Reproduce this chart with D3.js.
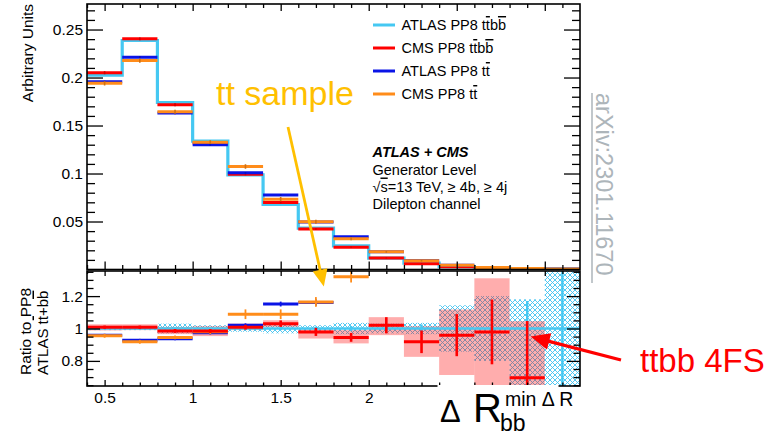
<!DOCTYPE html>
<html>
<head>
<meta charset="utf-8">
<script src="https://cdn.jsdelivr.net/npm/d3@7"></script>
<style>
  html, body { margin: 0; padding: 0; background: #fff; }
  svg { display: block; }
  text { font-family: "Liberation Sans", Arial, Helvetica, sans-serif; fill: #000; }
  .ov { text-decoration: overline; }
</style>
</head>
<body>
<svg id="chart" width="769" height="435"></svg>
<script>
// ---- binning of ΔR(bb) for the min-ΔR b-jet pair ----
const binEdges = [0.4, 0.6, 0.8, 1.0, 1.2, 1.4, 1.6, 1.8, 2.0, 2.2, 2.4, 2.6, 2.8, 3.0, 3.2];

// ---- normalised distributions (upper panel) ----
const atlasTtbb = [0.2025, 0.2386, 0.1740, 0.1337, 0.0985, 0.0677, 0.0431, 0.0247, 0.0118, 0.0066, 0.0030, 0.0016, 0.0008, 0.0003];
const cmsTtbb   = [0.2050, 0.2403, 0.1716, 0.1317, 0.0993, 0.0697, 0.0422, 0.0233, 0.0120, 0.0061, 0.0029, 0.0016, 0.0006, 0.0001];
const atlasTt   = [0.1955, 0.2212, 0.1630, 0.1299, 0.1007, 0.0775, 0.0495, 0.0341, 0.0186, 0.0094, 0.0043, 0.0022, 0.0011, 0.0005];
const cmsTt     = [0.1940, 0.2177, 0.1643, 0.1327, 0.1073, 0.0733, 0.0497, 0.0320, 0.0184, 0.0092, 0.0043, 0.0021, 0.0010, 0.0005];
const cmsTtbbErr  = [0.0015, 0.0015, 0.0015, 0.0013, 0.0012, 0.0010, 0.0008, 0.0006, 0.0005, 0.0004, 0.0003, 0.0002, 0.0002, 0.0001];
const atlasTtErr  = [0.0012, 0.0012, 0.0012, 0.0010, 0.0009, 0.0008, 0.0007, 0.0006, 0.0004, 0.0003, 0.0002, 0.0001, 0.0001, 0.0001];
const cmsTtErr    = [0.0022, 0.0022, 0.0020, 0.0020, 0.0024, 0.0022, 0.0020, 0.0015, 0.0010, 0.0008, 0.0005, 0.0003, 0.0002, 0.0001];

// ---- ratios to ATLAS PP8 ttbb (lower panel) ----
const ratioCmsTtbb    = [1.008, 1.008, 0.985, 0.985, 1.008, 1.030, 0.979, 0.945, 1.020, 0.918, 0.959, 0.979, 0.696, null];
const ratioCmsTtbbErr = [0.010, 0.010, 0.012, 0.012, 0.015, 0.020, 0.025, 0.027, 0.050, 0.070, 0.130, 0.200, 0.350, null];
const bandCmsTtbbLo   = [0.988, 0.990, 0.965, 0.953, 0.990, 1.010, 0.938, 0.908, 0.959, 0.825, 0.713, 0.600, 0.350, null];
const bandCmsTtbbHi   = [1.026, 1.026, 1.010, 1.014, 1.030, 1.051, 0.994, 0.990, 1.070, 1.014, 1.117, 1.310, 1.045, null];
const ratioAtlasTt    = [0.959, 0.928, 0.936, 0.973, 1.020, 1.151, 1.160, 1.400, 1.580, 1.420, 1.430, 1.440, 1.480, 1.670];
const ratioAtlasTtErr = [0.008, 0.008, 0.008, 0.010, 0.012, 0.015, 0.020, 0.030, 0.030, 0.030, 0.040, 0.050, 0.060, 0.080];
const ratioCmsTt      = [0.955, 0.918, 0.945, 0.980, 1.088, 1.088, 1.164, 1.320, 1.560, 1.420, 1.430, 1.450, 1.500, 1.600];
const ratioCmsTtErr   = [0.012, 0.012, 0.012, 0.015, 0.030, 0.030, 0.030, 0.036, 0.040, 0.040, 0.050, 0.060, 0.080, 0.100];
const atlasBandLo     = [0.990, 0.990, 0.970, 0.980, 0.980, 0.970, 0.980, 0.965, 0.970, 0.965, 0.857, 0.800, 0.600, 0.200];
const atlasBandHi     = [1.010, 1.010, 1.030, 1.020, 1.020, 1.030, 1.020, 1.035, 1.030, 1.035, 1.143, 1.200, 1.180, 1.800];
const atlasBarErr     = [0.004, 0.004, 0.006, 0.006, 0.008, 0.010, 0.012, 0.015, 0.020, 0.025, 0.080, 0.150, 0.170, 0.800];

// ---- axis ticks ----
const xMajor = [0.5, 1, 1.5, 2, 2.5, 3];
const xLabelled = [0.5, 1, 1.5, 2];
const xMinor = [0.4, 0.6, 0.7, 0.8, 0.9, 1.1, 1.2, 1.3, 1.4, 1.6, 1.7, 1.8, 1.9, 2.1, 2.2, 2.3, 2.4, 2.6, 2.7, 2.8, 2.9, 3.1];
const yTopMajor = [0.05, 0.1, 0.15, 0.2, 0.25];
const yTopMinor = [0.01, 0.02, 0.03, 0.04, 0.06, 0.07, 0.08, 0.09, 0.11, 0.12, 0.13, 0.14, 0.16, 0.17, 0.18, 0.19, 0.21, 0.22, 0.23, 0.24, 0.26, 0.27];
const yRatMajor = [0.8, 1, 1.2];
const yRatMinor = [0.65, 0.7, 0.75, 0.85, 0.9, 0.95, 1.05, 1.1, 1.15, 1.25, 1.3, 1.35];

// ---- legend ----
const legendItems = [
  { label: ["ATLAS PP8 t", "t", "b", "b"], color: "#45c8f2" },
  { label: ["CMS PP8 t", "t", "b", "b"], color: "#ff0000" },
  { label: ["ATLAS PP8 t", "t"], color: "#0a14e6" },
  { label: ["CMS PP8 t", "t"], color: "#ff8c1a" }
];

const C = { atlasTtbb: "#45c8f2", cmsTtbb: "#ff0000", atlasTt: "#0a14e6", cmsTt: "#ff8c1a" };

const svg = d3.select("#chart");
svg.append("rect").attr("width", 769).attr("height", 435).attr("fill", "#fff");

const L = 87, R = 580;
const topY0 = 4, topY1 = 269.5, ratY0 = 271, ratY1 = 386;

const x = d3.scaleLinear().domain([0.4, 3.2]).range([L, R]);
const yTop = d3.scaleLinear().domain([0, 0.2766]).range([topY1, topY0]);
const yRat = d3.scaleLinear().domain([0.645, 1.355]).range([ratY1, ratY0]);

const defs = svg.append("defs");
defs.append("clipPath").attr("id", "clipTop").append("rect")
  .attr("x", L).attr("y", topY0).attr("width", R - L).attr("height", topY1 - topY0);
defs.append("clipPath").attr("id", "clipRat").append("rect")
  .attr("x", L).attr("y", ratY0).attr("width", R - L).attr("height", ratY1 - ratY0);
const pat = defs.append("pattern").attr("id", "hatch").attr("patternUnits", "userSpaceOnUse")
  .attr("width", 5).attr("height", 5);
pat.append("path").attr("d", "M0,0L5,5M5,0L0,5M-1,4L1,6M4,-1L6,1")
  .attr("stroke", "#3fc3f0").attr("stroke-width", 0.9).attr("fill", "none");

const bins = binEdges.slice(0, -1).map((lo, i) => ({ i, lo, hi: binEdges[i + 1], c: (lo + binEdges[i + 1]) / 2 }));

// ================= upper panel =================
const gTop = svg.append("g").attr("clip-path", "url(#clipTop)");

// ATLAS ttbb as a connected step histogram
const stepPts = bins.map(b => [b.lo, atlasTtbb[b.i]]).concat([[3.2, atlasTtbb[atlasTtbb.length - 1]]]);
gTop.append("path")
  .attr("d", d3.line().x(d => x(d[0])).y(d => yTop(d[1])).curve(d3.curveStepAfter)(stepPts))
  .attr("fill", "none").attr("stroke", C.atlasTtbb).attr("stroke-width", 3.2);

function topSeries(vals, errs, color) {
  const g = gTop.append("g");
  g.selectAll("line.h").data(bins).join("line").attr("class", "h")
    .attr("x1", b => x(b.lo)).attr("x2", b => x(b.hi))
    .attr("y1", b => yTop(vals[b.i])).attr("y2", b => yTop(vals[b.i]))
    .attr("stroke", color).attr("stroke-width", 3);
  g.selectAll("line.e").data(bins).join("line").attr("class", "e")
    .attr("x1", b => x(b.c)).attr("x2", b => x(b.c))
    .attr("y1", b => yTop(vals[b.i] - errs[b.i])).attr("y2", b => yTop(vals[b.i] + errs[b.i]))
    .attr("stroke", d3.color(color).darker(0.6)).attr("stroke-width", 1.6);
}
topSeries(cmsTtbb, cmsTtbbErr, C.cmsTtbb);
topSeries(atlasTt, atlasTtErr, C.atlasTt);
topSeries(cmsTt, cmsTtErr, C.cmsTt);

// ================= ratio panel =================
const gRat = svg.append("g").attr("clip-path", "url(#clipRat)");

// ATLAS ttbb uncertainty (hatched)
gRat.selectAll("rect.hatch").data(bins).join("rect").attr("class", "hatch")
  .attr("x", b => x(b.lo)).attr("width", b => x(b.hi) - x(b.lo))
  .attr("y", b => yRat(atlasBandHi[b.i])).attr("height", b => yRat(atlasBandLo[b.i]) - yRat(atlasBandHi[b.i]))
  .attr("fill", "url(#hatch)");

// CMS ttbb uncertainty band
const bandBins = bins.filter(b => bandCmsTtbbLo[b.i] !== null);
gRat.selectAll("rect.band").data(bandBins).join("rect").attr("class", "band")
  .attr("x", b => x(b.lo)).attr("width", b => x(b.hi) - x(b.lo))
  .attr("y", b => yRat(bandCmsTtbbHi[b.i])).attr("height", b => yRat(bandCmsTtbbLo[b.i]) - yRat(bandCmsTtbbHi[b.i]))
  .attr("fill", "rgba(255,0,0,0.32)");

// reference line at unity and its statistical error bars
gRat.selectAll("line.ref").data(bins).join("line").attr("class", "ref")
  .attr("x1", b => x(b.lo)).attr("x2", b => x(b.hi))
  .attr("y1", yRat(1)).attr("y2", yRat(1))
  .attr("stroke", C.atlasTtbb).attr("stroke-width", 2.4);
gRat.selectAll("line.refe").data(bins).join("line").attr("class", "refe")
  .attr("x1", b => x(b.c)).attr("x2", b => x(b.c))
  .attr("y1", b => yRat(1 - atlasBarErr[b.i])).attr("y2", b => yRat(1 + atlasBarErr[b.i]))
  .attr("stroke", C.atlasTtbb).attr("stroke-width", 2.4);

function ratioSeries(vals, errs, color, hw, ew) {
  const data = bins.filter(b => vals[b.i] !== null);
  const g = gRat.append("g");
  g.selectAll("line.h").data(data).join("line").attr("class", "h")
    .attr("x1", b => x(b.lo)).attr("x2", b => x(b.hi))
    .attr("y1", b => yRat(vals[b.i])).attr("y2", b => yRat(vals[b.i]))
    .attr("stroke", color).attr("stroke-width", hw);
  g.selectAll("line.e").data(data).join("line").attr("class", "e")
    .attr("x1", b => x(b.c)).attr("x2", b => x(b.c))
    .attr("y1", b => yRat(vals[b.i] - errs[b.i])).attr("y2", b => yRat(vals[b.i] + errs[b.i]))
    .attr("stroke", color).attr("stroke-width", ew);
}
ratioSeries(ratioAtlasTt, ratioAtlasTtErr, C.atlasTt, 3, 1.8);
ratioSeries(ratioCmsTt, ratioCmsTtErr, C.cmsTt, 3, 1.8);
ratioSeries(ratioCmsTtbb, ratioCmsTtbbErr, C.cmsTtbb, 3, 2.6);

// ================= axes and frames =================
function ticks(axisFn, scale, vals, size, tx, ty, labels, pad) {
  const a = axisFn(scale).tickValues(vals).tickSize(size).tickPadding(pad || 4);
  if (!labels) a.tickFormat("");
  else a.tickFormat(d => String(d));
  const g = svg.append("g").attr("transform", `translate(${tx},${ty})`).call(a);
  g.select(".domain").remove();
  g.selectAll(".tick line").attr("stroke", "#000").attr("stroke-width", 1.3);
  if (!labels) g.selectAll(".tick text").remove();
  g.selectAll("text").attr("font-size", 15.5).attr("font-family", "Liberation Sans, Arial, sans-serif");
  return g;
}
// upper panel
ticks(d3.axisLeft, yTop, yTopMajor, -16, L, 0, true, 4);
ticks(d3.axisLeft, yTop, yTopMinor, -8, L, 0, false);
ticks(d3.axisRight, yTop, yTopMajor, -16, R, 0, false);
ticks(d3.axisRight, yTop, yTopMinor, -8, R, 0, false);
ticks(d3.axisBottom, x, xMajor, -8, 0, topY1, false);
ticks(d3.axisBottom, x, xMinor, -4.5, 0, topY1, false);
ticks(d3.axisTop, x, xMajor, -7, 0, topY0, false);
ticks(d3.axisTop, x, xMinor, -4, 0, topY0, false);
// ratio panel
ticks(d3.axisLeft, yRat, yRatMajor, -13, L, 0, true, 4);
ticks(d3.axisLeft, yRat, yRatMinor, -6.5, L, 0, false);
ticks(d3.axisRight, yRat, yRatMajor, -13, R, 0, false);
ticks(d3.axisRight, yRat, yRatMinor, -6.5, R, 0, false);
ticks(d3.axisTop, x, xMajor, -5, 0, ratY0, false);
ticks(d3.axisTop, x, xMinor, -3, 0, ratY0, false);
ticks(d3.axisBottom, x, xLabelled, -6, 0, ratY1, true, 6);
ticks(d3.axisBottom, x, xMinor, -3.5, 0, ratY1, false);

svg.append("rect").attr("x", L).attr("y", topY0).attr("width", R - L).attr("height", topY1 - topY0)
  .attr("fill", "none").attr("stroke", "#000").attr("stroke-width", 1.6);
svg.append("rect").attr("x", L).attr("y", ratY0).attr("width", R - L).attr("height", ratY1 - ratY0)
  .attr("fill", "none").attr("stroke", "#000").attr("stroke-width", 1.6);

// axis titles
svg.append("text").attr("transform", `translate(33,4) rotate(-90)`)
  .attr("text-anchor", "end").attr("font-size", 15.5).text("Arbitrary Units");
svg.append("text").attr("transform", `translate(31,375) rotate(-90)`)
  .attr("font-size", 15.5).text("Ratio to PP8");
const rl = svg.append("text").attr("transform", `translate(47.5,375) rotate(-90)`).attr("font-size", 15);
rl.append("tspan").text("ATLAS t");
rl.append("tspan").attr("class", "ov").text("t");
rl.append("tspan").text("+b");
rl.append("tspan").attr("class", "ov").text("b");

// legend
const lg = svg.append("g");
legendItems.forEach((it, k) => {
  const yy = 25 + k * 23;
  lg.append("line").attr("x1", 373).attr("x2", 395).attr("y1", yy).attr("y2", yy)
    .attr("stroke", it.color).attr("stroke-width", 3);
  const t = lg.append("text").attr("x", 401.5).attr("y", yy + 5).attr("font-size", 14.5);
  it.label.forEach((s, j) => {
    const ts = t.append("tspan").text(s);
    if (j % 2 === 1) ts.attr("class", "ov");
  });
});

// description block
const desc = svg.append("g");
desc.append("text").attr("x", 372.5).attr("y", 157).attr("font-weight", "bold").attr("font-style", "italic")
  .attr("font-size", 14.5).text("ATLAS + CMS");
desc.append("text").attr("x", 372.5).attr("y", 174.5).attr("font-size", 14.5).text("Generator Level");
const sq = desc.append("text").attr("x", 372.5).attr("y", 191.5).attr("font-size", 14.5);
sq.append("tspan").text("√");
sq.append("tspan").attr("class", "ov").text("s");
sq.append("tspan").text("=13 TeV, ≥ 4b, ≥ 4j");
desc.append("text").attr("x", 372.5).attr("y", 208.5).attr("font-size", 14.5).text("Dilepton channel");

// x-axis title drawn over the end of the ratio axis
svg.append("rect").attr("x", 437.5).attr("y", 385).attr("width", 121).attr("height", 50).attr("fill", "#fff");
const xt = svg.append("text").attr("x", 440).attr("y", 421.5);
xt.append("tspan").attr("font-size", 31).text("Δ");
xt.append("tspan").attr("x", 473).attr("font-size", 40).text("R");
xt.append("tspan").attr("x", 500).attr("dy", 9).attr("font-size", 23).text("bb");
xt.append("tspan").attr("x", 505).attr("dy", -25).attr("font-size", 19.5).text("min Δ R");

// arXiv reference
svg.append("text").attr("transform", "translate(596,93) rotate(90)")
  .attr("font-family", "Lato, 'Open Sans', sans-serif").attr("font-size", 23.5)
  .style("fill", "#adb5ba").text("arXiv:2301.11670");
svg.append("line").attr("x1", 592).attr("x2", 592).attr("y1", 93).attr("y2", 283)
  .attr("stroke", "#adb5ba").attr("stroke-width", 1.5);

// annotations
function arrow(x1, y1, x2, y2, color, w, hl, hw) {
  const dx = x2 - x1, dy = y2 - y1, len = Math.hypot(dx, dy), ux = dx / len, uy = dy / len;
  const bx = x2 - ux * hl, by = y2 - uy * hl;
  svg.append("line").attr("x1", x1).attr("y1", y1).attr("x2", bx + ux * 2).attr("y2", by + uy * 2)
    .attr("stroke", color).attr("stroke-width", w);
  svg.append("path")
    .attr("d", `M${x2},${y2}L${bx + uy * hw},${by - ux * hw}L${bx - uy * hw},${by + ux * hw}Z`)
    .attr("fill", color);
}
svg.append("text").attr("x", 216).attr("y", 105).attr("font-family", "Lato, 'Open Sans', sans-serif")
  .attr("font-size", 34).style("fill", "#ffc000").text("tt sample");
arrow(288, 127, x(1.745), yRat(1.26), "#ffc000", 2.8, 17, 7.5);

svg.append("text").attr("x", 640).attr("y", 371.5).attr("font-family", "Lato, 'Open Sans', sans-serif")
  .attr("font-size", 33).style("fill", "#ff0000").text("ttbb 4FS");
arrow(621, 360, x(2.92), yRat(0.95), "#ff0000", 3.2, 19, 8.5);
</script>
</body>
</html>
